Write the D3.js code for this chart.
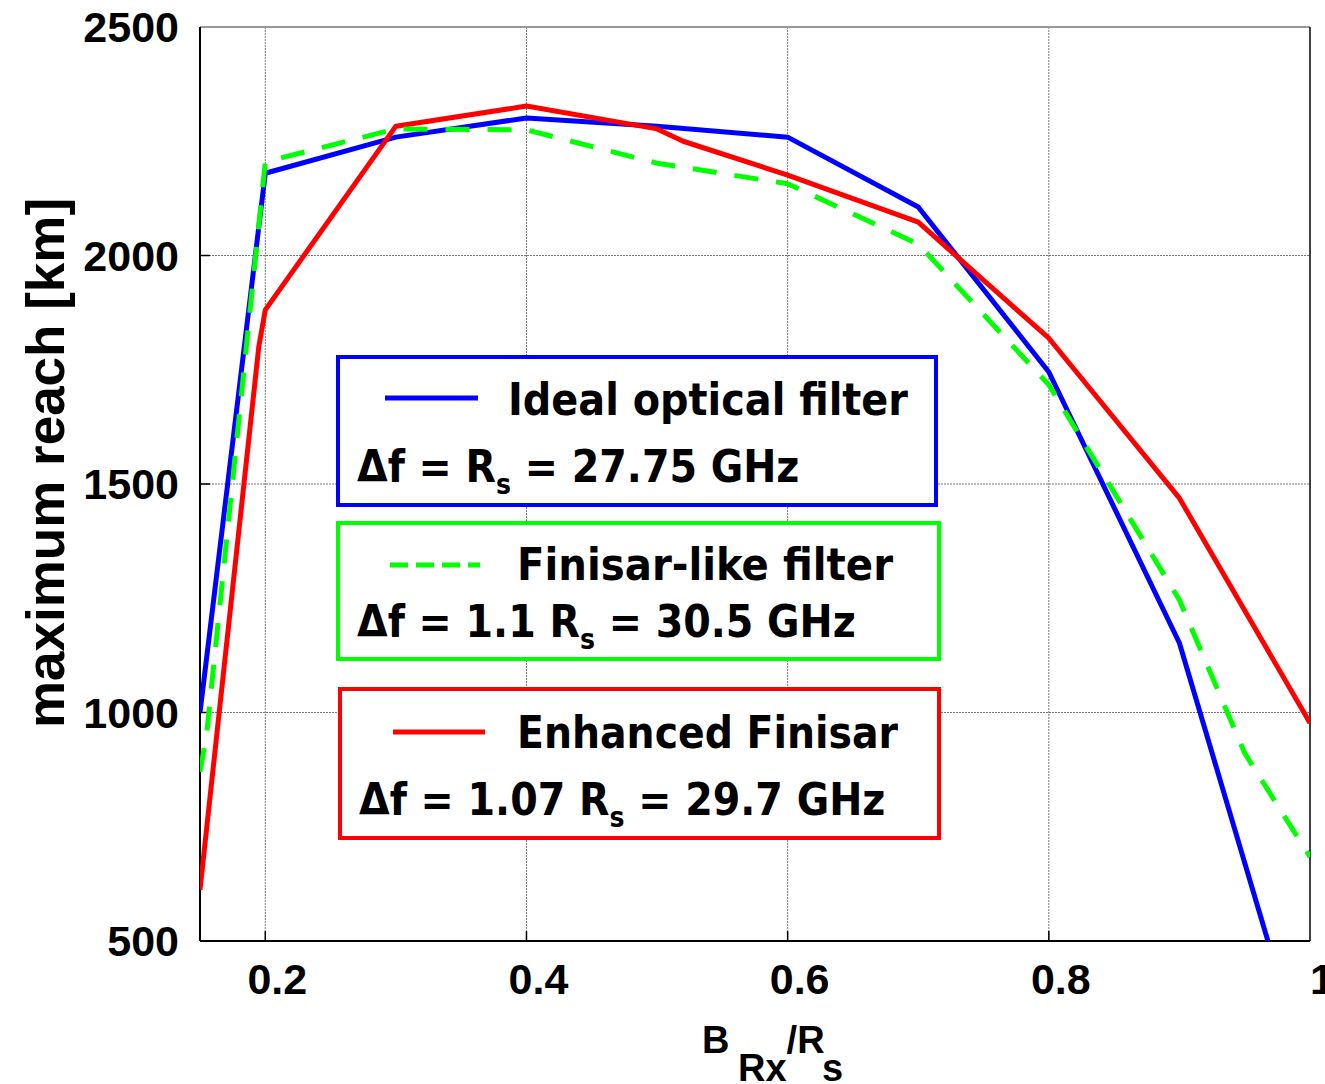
<!DOCTYPE html>
<html>
<head>
<meta charset="utf-8">
<script src="https://cdn.jsdelivr.net/npm/d3@7"></script>
<style>
  body { margin: 0; background: #fff; }
  svg { display: block; }
</style>
</head>
<body>
<svg id="svg" width="1325" height="1084"></svg>
<script>
const w = 1325;
const h = 1084;

// plot box
const plotL = 200, plotR = 1310, plotT = 27, plotB = 941;

// data
const xTicks = [0.2, 0.4, 0.6, 0.8, 1];
const yTicks = [500, 1000, 1500, 2000, 2500];

const idealX = [0.15, 0.2, 0.3, 0.4, 0.5, 0.6, 0.7, 0.8, 0.9, 1.0];
const idealY = [1000, 2180, 2259, 2301, 2283, 2259, 2106, 1745, 1152, 190];

const finisarX = [0.15, 0.155, 0.2, 0.3, 0.4, 0.5, 0.6, 0.7, 0.8, 0.9, 0.95, 1.0];
const finisarY = [870, 950, 2205, 2277, 2275, 2202, 2157, 2025, 1717, 1246, 911, 684];

const enhancedX = [0.15, 0.195, 0.2, 0.3, 0.4, 0.5, 0.52, 0.6, 0.7, 0.8, 0.9, 1.0];
const enhancedY = [612, 1800, 1881, 2283, 2327, 2277, 2250, 2176, 2073, 1819, 1469, 977];

let svg = d3.select("#svg");

let xScale = d3.scaleLinear([0.15, 1], [plotL, plotR]);
let yScale = d3.scaleLinear([500, 2500], [plotB, plotT]);

svg.append("clipPath")
  .attr("id", "chart-area")
  .append("rect")
  .attr("x", plotL)
  .attr("y", plotT)
  .attr("width", plotR - plotL)
  .attr("height", plotB - plotT);

// grid
svg.append("g")
  .selectAll("line")
  .data(xTicks.filter((d) => d < 1))
  .join("line")
  .attr("x1", (d) => xScale(d))
  .attr("x2", (d) => xScale(d))
  .attr("y1", plotT)
  .attr("y2", plotB)
  .attr("stroke", "#777")
  .attr("stroke-width", 1)
  .attr("stroke-dasharray", "2,1");

svg.append("g")
  .selectAll("line")
  .data(yTicks.filter((d) => d > 500 && d < 2500))
  .join("line")
  .attr("x1", plotL)
  .attr("x2", plotR)
  .attr("y1", (d) => yScale(d))
  .attr("y2", (d) => yScale(d))
  .attr("stroke", "#777")
  .attr("stroke-width", 1)
  .attr("stroke-dasharray", "2,1");

// frame
svg.append("line").attr("x1", plotL).attr("x2", plotR).attr("y1", plotT).attr("y2", plotT)
  .attr("stroke", "#999").attr("stroke-width", 2);
svg.append("line").attr("x1", plotR).attr("x2", plotR).attr("y1", plotT).attr("y2", plotB)
  .attr("stroke", "#000").attr("stroke-width", 1.5);
svg.append("line").attr("x1", plotL).attr("x2", plotL).attr("y1", plotT).attr("y2", plotB)
  .attr("stroke", "#000").attr("stroke-width", 2);
svg.append("line").attr("x1", plotL).attr("x2", plotR).attr("y1", plotB).attr("y2", plotB)
  .attr("stroke", "#000").attr("stroke-width", 2);

// inner tick marks
svg.append("g")
  .selectAll("line")
  .data(xTicks.filter((d) => d < 1))
  .join("line")
  .attr("x1", (d) => xScale(d))
  .attr("x2", (d) => xScale(d))
  .attr("y1", plotB)
  .attr("y2", plotB - 10)
  .attr("stroke", "#000")
  .attr("stroke-width", 1.5);

svg.append("g")
  .selectAll("line")
  .data(yTicks.filter((d) => d > 500 && d < 2500))
  .join("line")
  .attr("x1", plotL)
  .attr("x2", plotL + 10)
  .attr("y1", (d) => yScale(d))
  .attr("y2", (d) => yScale(d))
  .attr("stroke", "#000")
  .attr("stroke-width", 1.5);

// tick labels
const tickFont = "'Liberation Sans', Arial, sans-serif";

svg.append("g")
  .selectAll("text")
  .data(yTicks)
  .join("text")
  .attr("x", 179)
  .attr("y", (d) => yScale(d) + 15)
  .attr("text-anchor", "end")
  .attr("font-family", tickFont)
  .attr("font-weight", "bold")
  .attr("font-size", 43)
  .text((d) => d);

svg.append("g")
  .selectAll("text")
  .data(xTicks)
  .join("text")
  .attr("x", (d) => xScale(d) + 12)
  .attr("y", 994)
  .attr("text-anchor", "middle")
  .attr("font-family", tickFont)
  .attr("font-weight", "bold")
  .attr("font-size", 43)
  .text((d) => (d === 1 ? "1" : d));

// axis titles
svg.append("text")
  .attr("transform", "translate(64,463) rotate(-90)")
  .attr("text-anchor", "middle")
  .attr("font-family", tickFont)
  .attr("font-weight", "bold")
  .attr("font-size", 53)
  .text("maximum reach [km]");

let xt = svg.append("text")
  .attr("x", 702)
  .attr("y", 1053)
  .attr("font-family", tickFont)
  .attr("font-weight", "bold")
  .attr("font-size", 38);
xt.append("tspan").text("B");
xt.append("tspan").attr("x", 738).attr("dy", 28).text("Rx");
xt.append("tspan").attr("dy", -28).text("/R");
xt.append("tspan").attr("dy", 28).attr("x", 822).text("s");

// series
let lineFunc = d3.line()
  .x((d) => xScale(d[0]))
  .y((d) => yScale(d[1]));

const series = [
  { xs: idealX, ys: idealY, color: "#0000ff", dash: null },
  { xs: enhancedX, ys: enhancedY, color: "#ff0000", dash: null },
  { xs: finisarX, ys: finisarY, color: "#00ff00", dash: "24,18" },
];

series.forEach((s) => {
  svg.append("path")
    .datum(s.xs.map((x, i) => [x, s.ys[i]]))
    .attr("clip-path", "url(#chart-area)")
    .attr("fill", "none")
    .attr("stroke", s.color)
    .attr("stroke-width", 5)
    .attr("stroke-linejoin", "round")
    .attr("stroke-dasharray", s.dash)
    .attr("d", lineFunc);
});

// legend boxes
const legendFont = "'DejaVu Sans Condensed', 'DejaVu Sans', sans-serif";
const legends = [
  { box: [338, 357, 598, 148], color: "#0000ff", dash: null, line: [385, 478, 398],
    title: "Ideal optical filter", tx: 508, ty: 415, tw: 400,
    pre: "Δf = R", post: " = 27.75 GHz", sx: 357, sy: 482 },
  { box: [338, 523, 601, 136], color: "#00ff00", dash: "18,8", line: [390, 480, 565],
    title: "Finisar-like filter", tx: 517, ty: 580, tw: 376,
    pre: "Δf = 1.1 R", post: " = 30.5 GHz", sx: 357, sy: 637 },
  { box: [340, 689, 599, 149], color: "#ff0000", dash: null, line: [393, 485, 732],
    title: "Enhanced Finisar", tx: 517, ty: 748, tw: 381,
    pre: "Δf = 1.07 R", post: " = 29.7 GHz", sx: 359, sy: 815 },
];

legends.forEach((l) => {
  svg.append("rect")
    .attr("x", l.box[0]).attr("y", l.box[1])
    .attr("width", l.box[2]).attr("height", l.box[3])
    .attr("fill", "#fff")
    .attr("stroke", l.color)
    .attr("stroke-width", 4);
  svg.append("line")
    .attr("x1", l.line[0]).attr("x2", l.line[1])
    .attr("y1", l.line[2]).attr("y2", l.line[2])
    .attr("stroke", l.color)
    .attr("stroke-width", 5)
    .attr("stroke-dasharray", l.dash);
  svg.append("text")
    .attr("x", l.tx).attr("y", l.ty)
    .attr("font-family", legendFont)
    .attr("font-weight", "bold")
    .attr("font-size", 44)
    .attr("textLength", l.tw)
    .attr("lengthAdjust", "spacingAndGlyphs")
    .text(l.title);
  let t = svg.append("text")
    .attr("x", l.sx).attr("y", l.sy)
    .attr("font-family", legendFont)
    .attr("font-weight", "bold")
    .attr("font-size", 44);
  t.append("tspan").text(l.pre);
  t.append("tspan").attr("font-size", 28).attr("dy", 12).text("s");
  t.append("tspan").attr("dy", -12).text(l.post);
});
</script>
</body>
</html>
